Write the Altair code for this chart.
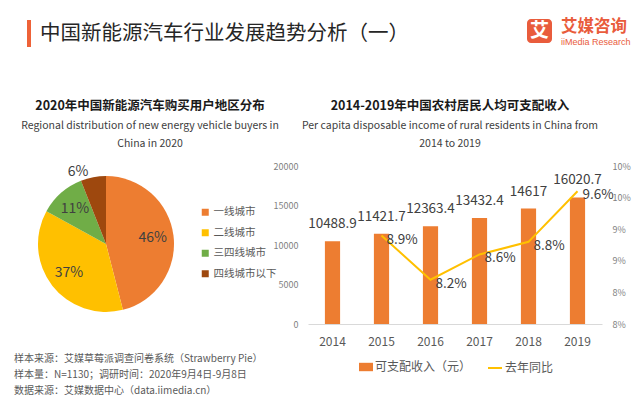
import json
import altair as alt
import pandas as pd

# ---------------- data ----------------
regions = ["一线城市", "二线城市", "三四线城市", "四线城市以下"]
shares = [46, 37, 11, 6]
pie_colors = ["#ED7D31", "#FFC000", "#70AD47", "#9E480E"]

years = ["2014", "2015", "2016", "2017", "2018", "2019"]
income = [10488.9, 11421.7, 12363.4, 13432.4, 14617, 16020.7]
growth = [None, 8.9, 8.2, 8.6, 8.8, 9.6]
income_ticks = [0, 5000, 10000, 15000, 20000]
growth_ticks = [7.5, 8, 8.5, 9, 9.5, 10]
series = ["可支配收入（元）", "去年同比"]
series_colors = ["#ED7D31", "#FFC000"]

sources = [
    "样本来源：艾媒草莓派调查问卷系统（Strawberry Pie）",
    "样本量：N=1130；调研时间：2020年9月4日-9月8日",
    "数据来源：艾媒数据中心（data.iimedia.cn）",
]

FONT = "Noto Sans CJK SC"
DARK = "#404040"
GRAY = "#595959"

pie_df = pd.DataFrame({"region": regions, "share": shares, "idx": list(range(len(regions)))})
inc_df = pd.DataFrame({"year": years, "income": income, "growth": growth})
inc_df["income_label"] = [f"{v:g}" for v in income]
inc_df["growth_label"] = [f"{g}%" if g is not None else "" for g in growth]

one = alt.Data(values=[{"k": 1}])

W, H = 624, 390


def txt(s, x, y, size, color=DARK, weight="normal", align="left", font=FONT):
    return alt.Chart(one).mark_text(
        text=s, align=align, baseline="middle", fontSize=size, color=color,
        fontWeight=weight, font=font
    ).encode(x=alt.value(x), y=alt.value(y))


# ---------------- header ----------------
title_bar = alt.Chart(one).mark_rect(color="#EE6238").encode(
    x=alt.value(19), x2=alt.value(23), y=alt.value(12), y2=alt.value(39))
title = txt("中国新能源汽车行业发展趋势分析（一）", 32, 26, 20.5, color="#262626")
logo_box = alt.Chart(one).mark_rect(color="#E95C3C", cornerRadius=4).encode(
    x=alt.value(519), x2=alt.value(544), y=alt.value(11), y2=alt.value(35))
logo_char = txt("艾", 531.5, 23, 19, color="white", weight="bold", align="center")
logo_name = txt("艾媒咨询", 553, 19, 16.5, color="#E95C3C", weight="bold")
logo_en = txt("iiMedia Research", 553, 34, 9, color="#E95C3C", font="Liberation Sans")

left_t1 = txt("2020年中国新能源汽车购买用户地区分布", 142, 97.5, 12.5, color="#1a1a1a", weight="bold", align="center")
left_t2 = txt("Regional distribution of new energy vehicle buyers in", 142, 117.5, 10.5, align="center")
left_t3 = txt("China in 2020", 142, 136, 10.5, align="center")
right_t1 = txt("2014-2019年中国农村居民人均可支配收入", 442, 97.5, 12.5, color="#1a1a1a", weight="bold", align="center")
right_t2 = txt("Per capita disposable income of rural residents in China from", 442, 117.5, 10.5, align="center")
right_t3 = txt("2014 to 2019", 442, 136, 10.5, align="center")

src_layers = [txt(s, 6, y, 10, color=GRAY) for s, y in zip(sources, [351, 366.5, 382.5])]

# ---------------- pie ----------------
CX, CY = 98, 236
theta = alt.Theta("share:Q", stack=True)
order = alt.Order("idx:Q")

pie = alt.Chart(pie_df).mark_arc(outerRadius=68).encode(
    theta=theta,
    order=order,
    color=alt.Color(
        "region:N",
        scale=alt.Scale(domain=regions, range=pie_colors),
        legend=alt.Legend(
            orient="none", legendX=192, legendY=199, title=None,
            symbolType="square", symbolSize=49, symbolStrokeWidth=0,
            labelFont=FONT, labelFontSize=10.5, labelColor=GRAY,
            rowPadding=9.5, labelOffset=3, padding=0,
        ),
    ),
    x=alt.value(CX), y=alt.value(CY),
)

pie_in = alt.Chart(pie_df).transform_calculate(
    lab="datum.share > 8 ? datum.share + '%' : ''"
).mark_text(radius=47, fontSize=14, color=DARK, font=FONT).encode(
    theta=theta, order=order, detail="region:N", text="lab:N",
    x=alt.value(CX), y=alt.value(CY),
)

pie_out = alt.Chart(pie_df).transform_calculate(
    lab="datum.share <= 8 ? datum.share + '%' : ''"
).mark_text(radius=80, dx=-13, dy=7, fontSize=14, color=DARK, font=FONT).encode(
    theta=theta, order=order, detail="region:N", text="lab:N",
    x=alt.value(CX), y=alt.value(CY),
)

# ---------------- bars + line ----------------
xenc = alt.X(
    "year:N",
    scale=alt.Scale(range=[300, 594], paddingInner=0.69, paddingOuter=0.345),
    axis=alt.Axis(
        title=None, labelAngle=0, labelFont=FONT, labelFontSize=12, labelColor=GRAY,
        labelPadding=12, ticks=False, domainColor="#D9D9D9", domainWidth=1,
        offset=316 - H, grid=False,
    ),
)

y_inc = alt.Y(
    "income:Q",
    scale=alt.Scale(domain=[0, 20000], range=[316, 158], nice=False),
    axis=alt.Axis(
        title=None, values=income_ticks, format="d", orient="left", offset=-292,
        labelPadding=2, ticks=False, domain=False, grid=False, labelColor="#7F7F7F",
        labelFontSize=9, labelFont=FONT,
    ),
)
y_gr = alt.Y(
    "growth:Q",
    scale=alt.Scale(domain=[7.5, 10], range=[316, 158], nice=False, zero=False),
    axis=alt.Axis(
        title=None, values=growth_ticks, orient="right", offset=602 - W, labelPadding=2,
        ticks=False, domain=False, grid=False, labelColor="#7F7F7F",
        labelFontSize=9, labelFont=FONT,
        labelExpr="format(datum.value, '.0f') + '%'",
    ),
)

common_leg = dict(
    orient="none", direction="horizontal", title=None, labelFont=FONT,
    labelFontSize=12, labelColor=GRAY, symbolSize=196, labelOffset=2, padding=0,
)

bars = alt.Chart(inc_df).transform_calculate(
    s=json.dumps(series[0], ensure_ascii=False)
).mark_bar().encode(
    x=xenc,
    y=y_inc,
    fill=alt.Fill(
        "s:N",
        scale=alt.Scale(domain=[series[0]], range=[series_colors[0]]),
        legend=alt.Legend(legendX=351, legendY=352, symbolType="M-1,-0.6H1V0.6H-1Z",
                          symbolStrokeWidth=0, **common_leg),
    ),
)

bar_labels = alt.Chart(inc_df).mark_text(
    baseline="middle", dy=-17, fontSize=13.5, color=DARK, font=FONT
).encode(x=xenc, y=y_inc, text="income_label:N")

line = alt.Chart(inc_df).transform_calculate(
    s=json.dumps(series[1], ensure_ascii=False)
).mark_line(strokeWidth=2).encode(
    x=xenc,
    y=y_gr,
    stroke=alt.Stroke(
        "s:N",
        scale=alt.Scale(domain=[series[1]], range=[series_colors[1]]),
        legend=alt.Legend(legendX=479, legendY=352, symbolType="stroke",
                          symbolStrokeWidth=2, **common_leg),
    ),
)

line_labels = alt.Chart(inc_df).mark_text(
    align="left", baseline="middle", dx=5, dy=4, fontSize=13.5, color=DARK, font=FONT
).encode(x=xenc, y=y_gr, text="growth_label:N")

combo = alt.layer(
    alt.layer(bars, bar_labels),
    alt.layer(line, line_labels),
).resolve_scale(y="independent")

chart = alt.layer(
    title_bar, title, logo_box, logo_char, logo_name, logo_en,
    left_t1, left_t2, left_t3, right_t1, right_t2, right_t3,
    *src_layers,
    pie, pie_in, pie_out,
    combo,
).properties(
    width=W, height=H, padding=0,
    autosize=alt.AutoSizeParams(type="none"),
).configure_view(strokeWidth=0)

chart.save("out.html", embed_options={"renderer": "svg", "actions": False})
